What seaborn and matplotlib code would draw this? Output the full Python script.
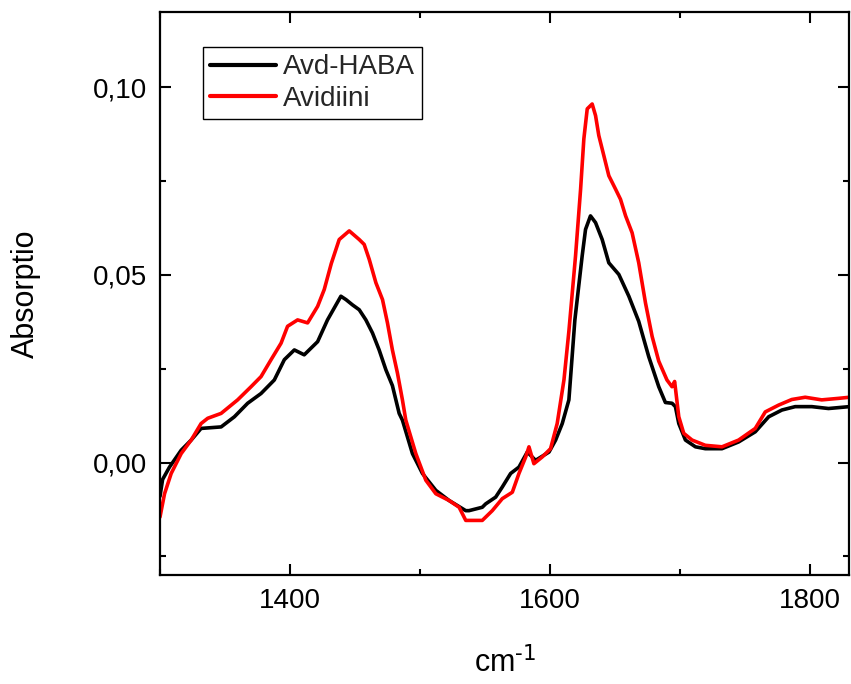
import numpy as np
import pandas as pd
import matplotlib
matplotlib.use("Agg")
import matplotlib.pyplot as plt
from matplotlib.ticker import MultipleLocator, FuncFormatter
from matplotlib.lines import Line2D
import seaborn as sns

# Avd-HABA (black)
wn_haba = [1300, 1302, 1307.3, 1316.3, 1324.0, 1331.6, 1347.0, 1357.2, 1367.4, 1377.7,
           1387.9, 1395.6, 1403.3, 1410.9, 1421.2, 1428.8, 1439.1, 1443.0, 1448.0, 1453.2,
           1458.3, 1463.4, 1468.5, 1473.7, 1478.7, 1483.9, 1486.4, 1494.1, 1501.8, 1512.1,
           1522.3, 1535.1, 1537.6, 1547.8, 1550.4, 1558.1, 1563.2, 1569.6, 1576.0, 1582.4,
           1588.8, 1599.1, 1604.2, 1609.3, 1614.4, 1619.0, 1624.6, 1627.2, 1631.0, 1634.9,
           1640.0, 1645.1, 1652.8, 1660.5, 1668.1, 1675.8, 1683.5, 1688.6, 1693.7, 1696.3,
           1698.9, 1704.0, 1711.7, 1719.3, 1732.1, 1744.9, 1757.7, 1768.0, 1778.2, 1788.4,
           1801.2, 1814.0, 1830.1]
a_haba = [-0.0090, -0.0045, -0.0012, 0.0033, 0.0060, 0.0091, 0.0095, 0.0122, 0.0158, 0.0184,
          0.0220, 0.0274, 0.0300, 0.0287, 0.0322, 0.0380, 0.0443, 0.0434, 0.0420, 0.0407,
          0.0380, 0.0345, 0.0300, 0.0247, 0.0205, 0.0131, 0.0113, 0.0024, -0.0029, -0.0074,
          -0.0101, -0.0128, -0.0128, -0.0119, -0.0110, -0.0092, -0.0065, -0.0029, -0.0012, 0.0028,
          0.0006, 0.0028, 0.0060, 0.0104, 0.0167, 0.0380, 0.0550, 0.0621, 0.0657, 0.0639,
          0.0594, 0.0532, 0.0501, 0.0443, 0.0376, 0.0282, 0.0202, 0.0160, 0.0158, 0.0149,
          0.0104, 0.0060, 0.0042, 0.0037, 0.0037, 0.0055, 0.0082, 0.0122, 0.0140, 0.0149,
          0.0149, 0.0144, 0.0149]

# Avidiini (red)
wn_avd = [1300, 1303.5, 1308.6, 1316.3, 1324.0, 1331.6, 1336.7, 1347.0, 1359.7, 1370.0,
          1377.7, 1385.4, 1393.1, 1398.1, 1405.8, 1413.5, 1421.2, 1426.3, 1431.7, 1437.8,
          1445.5, 1453.2, 1457.0, 1460.9, 1466.0, 1471.1, 1474.9, 1478.7, 1482.6, 1486.4,
          1489.0, 1496.7, 1504.4, 1512.1, 1522.3, 1530.0, 1535.1, 1547.8, 1555.5, 1563.2,
          1570.9, 1576.0, 1581.2, 1583.7, 1587.5, 1593.9, 1600.3, 1605.4, 1610.6, 1614.4,
          1619.5, 1623.4, 1625.9, 1628.5, 1632.3, 1634.9, 1637.4, 1641.3, 1645.1, 1650.3,
          1654.1, 1658.0, 1663.0, 1668.1, 1673.3, 1678.4, 1683.5, 1689.8, 1693.7, 1695.7,
          1698.9, 1702.7, 1709.1, 1719.3, 1732.1, 1744.9, 1757.7, 1765.4, 1775.6, 1785.8,
          1796.1, 1808.8, 1821.6, 1830.1]
a_avd = [-0.0145, -0.0083, -0.0029, 0.0024, 0.0060, 0.0104, 0.0118, 0.0131, 0.0167, 0.0202,
         0.0229, 0.0274, 0.0318, 0.0363, 0.0380, 0.0372, 0.0416, 0.0461, 0.0530, 0.0594,
         0.0617, 0.0594, 0.0581, 0.0541, 0.0479, 0.0434, 0.0372, 0.0300, 0.0238, 0.0167,
         0.0113, 0.0024, -0.0047, -0.0083, -0.0101, -0.0119, -0.0154, -0.0154, -0.0128, -0.0096,
         -0.0079, -0.0029, 0.0015, 0.0042, -0.0003, 0.0015, 0.0037, 0.0104, 0.0220, 0.0350,
         0.0550, 0.0728, 0.0862, 0.0942, 0.0955, 0.0924, 0.0871, 0.0817, 0.0764, 0.0728,
         0.0701, 0.0657, 0.0612, 0.0532, 0.0425, 0.0336, 0.0270, 0.0220, 0.0202, 0.0216,
         0.0122, 0.0078, 0.0060, 0.0046, 0.0042, 0.0060, 0.0091, 0.0135, 0.0153, 0.0168,
         0.0174, 0.0167, 0.0171, 0.0174]

labels = ["Avd-HABA", "Avidiini"]
colors = ["#000000", "#ff0000"]
x_ticks = [1400, 1600, 1800]
y_ticks = [0.00, 0.05, 0.10]

df = pd.concat([
    pd.DataFrame({"wn": wn_haba, "A": a_haba, "sample": labels[0]}),
    pd.DataFrame({"wn": wn_avd, "A": a_avd, "sample": labels[1]}),
], ignore_index=True)

sns.set_theme(style="ticks")
plt.rcParams["font.family"] = ["Liberation Sans", "DejaVu Sans"]
plt.rcParams["mathtext.default"] = "regular"
plt.rcParams["axes.unicode_minus"] = False

fig = plt.figure(figsize=(8.51, 6.84), dpi=100)
ax = fig.add_axes([0.188, 0.159, 0.810, 0.8235])

sns.lineplot(data=df, x="wn", y="A", hue="sample", palette=dict(zip(labels, colors)),
             estimator=None, sort=False, linewidth=2.6, ax=ax, legend=False)

ax.set_xlim(1300, 1830)
ax.set_ylim(-0.03, 0.12)
ax.set_xticks(x_ticks)
ax.set_yticks(y_ticks)
ax.xaxis.set_minor_locator(MultipleLocator(100))
ax.yaxis.set_minor_locator(MultipleLocator(0.025))
ax.yaxis.set_major_formatter(FuncFormatter(lambda v, p: f"{v:.2f}".replace(".", ",")))
ax.tick_params(which="both", direction="in", top=True, right=True, width=1.5,
               labelsize=20, color="black", labelcolor="black")
ax.tick_params(which="major", length=8, pad=9)
ax.tick_params(which="minor", length=4.5)
for s in ax.spines.values():
    s.set_linewidth(1.6)
    s.set_color("black")

ax.set_xlabel(r"cm$^{\text{-1}}$", fontsize=22, color="black")
ax.set_ylabel("Absorptio", fontsize=22, color="black")
ax.xaxis.set_label_coords(0.5, -0.128)
ax.yaxis.set_label_coords(-0.172, 0.5)

handles = [Line2D([], [], color=c, linewidth=3) for c in colors]
leg = ax.legend(handles, labels, loc="upper left", bbox_to_anchor=(0.062, 0.937),
                borderaxespad=0, fontsize=20, frameon=True, fancybox=False,
                edgecolor="black", framealpha=1, handlelength=2.4, handletextpad=0.25,
                borderpad=0.25, labelspacing=0.2)
leg.get_frame().set_linewidth(1.0)

fig.savefig("out.png", dpi=100)
